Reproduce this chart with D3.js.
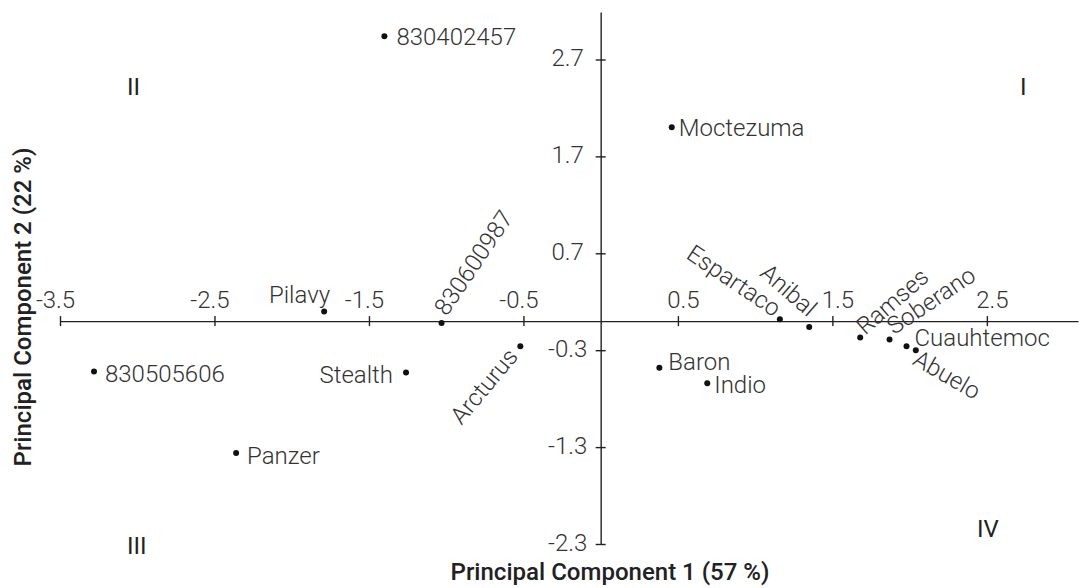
<!DOCTYPE html>
<html>
<head>
<meta charset="utf-8">
<script src="https://cdn.jsdelivr.net/npm/d3@7"></script>
<style>
  body { margin: 0; background: #fff; }
  svg text { font-family: Roboto, "Noto Sans", sans-serif; fill: #333; }
  .lbl { font-size: 24px; font-weight: 300; }
  .axis text { font-size: 24px; font-weight: 300; fill: #333; }
  .axis path, .axis line { stroke: #222; stroke-width: 1.4; }
  .title { font-family: "Roboto Medium", Roboto, sans-serif; font-size: 24px; font-weight: 500; fill: #222; }
  .quad { font-size: 24px; font-weight: 400; fill: #222; }
</style>
</head>
<body>
<svg id="chart" width="1081" height="588"></svg>
<script>
// PCA scores
var names = ["830402457", "Moctezuma", "Pilavy", "830600987", "830505606", "Stealth",
             "Arcturus", "Panzer", "Baron", "Indio", "Espartaco", "Anibal",
             "Ramses", "Soberano", "Cuauhtemoc", "Abuelo"];
var pc1 = [-1.40, 0.46, -1.79, -1.03, -3.28, -1.26, -0.52, -2.36, 0.38, 0.69, 1.16, 1.35, 1.68, 1.87, 1.98, 2.04];
var pc2 = [2.94, 2.00, 0.10, -0.02, -0.52, -0.53, -0.26, -1.36, -0.48, -0.64, 0.02, -0.06, -0.17, -0.19, -0.26, -0.30];

var xTicks = [-3.5, -2.5, -1.5, -0.5, 0.5, 1.5, 2.5];
var yTicks = [2.7, 1.7, 0.7, -0.3, -1.3, -2.3];

var quadrants = ["I", "II", "III", "IV"];

// label placement per point (presentation only)
var labelPos = {
  "830402457":  { anchor: "start", dx: 12, dy: 8.5, rot: 0 },
  "Moctezuma":  { anchor: "start", dx: 7,  dy: 8.5, rot: 0 },
  "Pilavy":     { anchor: "end",   dx: 6,  dy: -8,  rot: 0 },
  "830600987":  { anchor: "start", dx: 8,  dy: 1,   rot: -56 },
  "830505606":  { anchor: "start", dx: 11, dy: 10,  rot: 0 },
  "Stealth":    { anchor: "end",   dx: -13, dy: 10.5, rot: 0 },
  "Arcturus":   { anchor: "end",   dx: -9, dy: 6,   rot: -50 },
  "Panzer":     { anchor: "start", dx: 11, dy: 11.5, rot: 0 },
  "Baron":      { anchor: "start", dx: 9,  dy: 2,   rot: 0 },
  "Indio":      { anchor: "start", dx: 7,  dy: 10,  rot: 0 },
  "Espartaco":  { anchor: "end",   dx: -6, dy: 2,   rot: 34 },
  "Anibal":     { anchor: "end",   dx: -7, dy: -6,  rot: 41 },
  "Ramses":     { anchor: "start", dx: 5,  dy: 2,   rot: -41 },
  "Soberano":   { anchor: "start", dx: 6,  dy: -1,  rot: -34 },
  "Cuauhtemoc": { anchor: "start", dx: 8,  dy: 0,   rot: 0 },
  "Abuelo":     { anchor: "start", dx: 3,  dy: 14,  rot: 30 }
};

var svg = d3.select("#chart");

var x = d3.scaleLinear().domain([-3.5, 3.09]).range([60, 1078]),
    y = d3.scaleLinear().domain([-2.3, 3.19]).range([544, 12]);

var data = names.map(function(n, i) { return { name: n, x: pc1[i], y: pc2[i] }; });

// plain hyphen for negatives, like the original
var fmt = function(d) { return d.toFixed(1); };

// x axis through y = 0, labels above
var gx = svg.append("g")
  .attr("class", "axis")
  .attr("transform", "translate(0," + y(0) + ")")
  .call(d3.axisTop(x).tickValues(xTicks).tickSizeOuter(0).tickFormat(fmt));
gx.selectAll(".tick line").attr("y1", -5).attr("y2", 5);
gx.selectAll(".tick text")
  .attr("y", -13).attr("dy", null)
  .attr("dx", function(d) { return d < 0 ? -5 : 5; });

// y axis through x = 0, labels left
var gy = svg.append("g")
  .attr("class", "axis")
  .attr("transform", "translate(" + x(0) + ",0)")
  .call(d3.axisLeft(y).tickValues(yTicks).tickSizeOuter(0).tickFormat(fmt));
gy.selectAll(".tick line").attr("x1", -5).attr("x2", 5);
gy.selectAll(".tick text")
  .attr("x", -33).attr("dy", 6)
  .attr("text-anchor", "middle");

// points
svg.append("g").selectAll("circle")
  .data(data)
  .enter().append("circle")
  .attr("cx", function(d) { return x(d.x); })
  .attr("cy", function(d) { return y(d.y); })
  .attr("r", 3)
  .attr("fill", "#111");

// labels
svg.append("g").selectAll("text")
  .data(data)
  .enter().append("text")
  .attr("class", "lbl")
  .attr("transform", function(d) {
    var p = labelPos[d.name];
    return "translate(" + x(d.x) + "," + y(d.y) + ") rotate(" + p.rot + ")";
  })
  .attr("x", function(d) { return labelPos[d.name].dx; })
  .attr("y", function(d) { return labelPos[d.name].dy; })
  .attr("text-anchor", function(d) { return labelPos[d.name].anchor; })
  .text(function(d) { return d.name; });

// quadrant numerals
var quadXY = { "I": [1020, 95], "II": [127, 95], "III": [127, 554], "IV": [977, 537] };
svg.append("g").selectAll("text")
  .data(quadrants)
  .enter().append("text")
  .attr("class", "quad")
  .attr("x", function(d) { return quadXY[d][0]; })
  .attr("y", function(d) { return quadXY[d][1]; })
  .text(function(d) { return d; });

// axis titles
svg.append("text")
  .attr("class", "title")
  .attr("x", 610).attr("y", 580)
  .attr("text-anchor", "middle")
  .text("Principal Component 1 (57 %)");

svg.append("text")
  .attr("class", "title")
  .attr("transform", "translate(31,307) rotate(-90)")
  .attr("text-anchor", "middle")
  .text("Principal Component 2 (22 %)");
</script>
</body>
</html>
